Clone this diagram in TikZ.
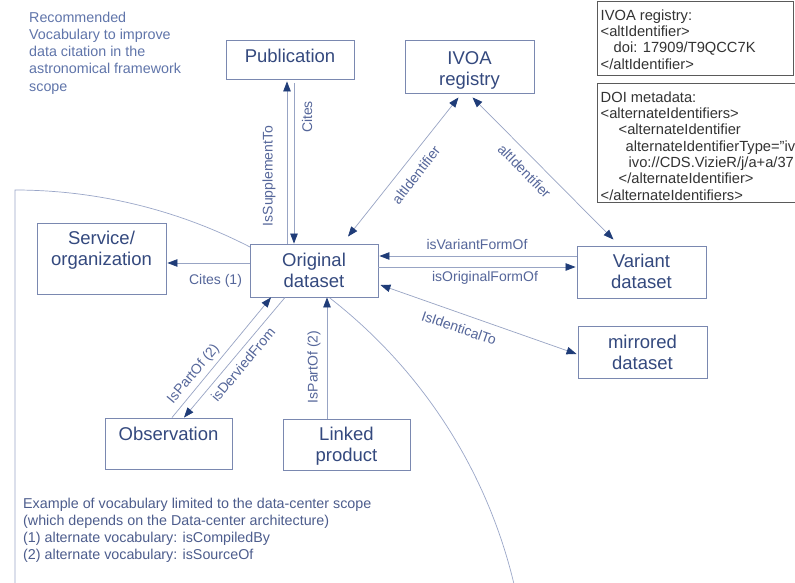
\documentclass[tikz,border=0pt]{standalone}
\usepackage{fontspec}
\setmainfont{Liberation Sans}
\usetikzlibrary{arrows.meta}
\definecolor{boxc}{HTML}{7A88B0}
\definecolor{linec}{HTML}{98A4C4}
\definecolor{tipc}{HTML}{1F3C78}
\definecolor{nodetxt}{HTML}{34497E}
\definecolor{lblc}{HTML}{55669A}
\definecolor{titlec}{HTML}{6075AA}
\definecolor{notec}{HTML}{4D5D8D}
\definecolor{curvec}{HTML}{9AA6C8}
\definecolor{grayb}{HTML}{5A5A5A}
\definecolor{grayt}{HTML}{333333}
\tikzset{
  >={Triangle[length=10pt,width=7.5pt,color=tipc]},
  box/.style={draw=boxc, line width=0.9pt, fill=white, inner sep=0pt},
  boxtext/.style={text=nodetxt, font=\fontsize{18.5}{21}\selectfont, align=center, inner sep=0pt},
  conn/.style={draw=linec, line width=0.7pt},
  lbl/.style={text=lblc, font=\fontsize{14}{16}\selectfont, inner sep=0pt},
  codebox/.style={draw=grayb, line width=0.8pt, anchor=north west, inner sep=0pt},
  codetext/.style={text=grayt, font=\fontsize{14.7}{16.3}\selectfont, align=left, anchor=north west, inner sep=0pt},
}
\begin{document}
\begin{tikzpicture}[x=1pt,y=-1pt]
\useasboundingbox[fill=white] (0,0) rectangle (795,583);

% scope curve
\draw[curvec, line width=0.7pt] (15,583) -- (15,190)
  -- plot[domain=-90:-13.5, samples=80, smooth] ({15+513*cos(\x)}, {703+513*sin(\x)});

% boxes
\node[box, minimum width=128pt, minimum height=39pt] (pub) at (290,59.5) {};
\node[box, minimum width=129pt, minimum height=53pt] (ivoa) at (469.5,66.5) {};
\node[box, minimum width=129pt, minimum height=71pt] (svc) at (101.5,258.5) {};
\node[box, minimum width=128pt, minimum height=53pt] (orig) at (314,270.5) {};
\node[box, minimum width=129pt, minimum height=52pt] (var) at (641.5,272) {};
\node[box, minimum width=129pt, minimum height=52pt] (mir) at (642.5,352) {};
\node[box, minimum width=127pt, minimum height=51pt] (obs) at (168.5,443.5) {};
\node[box, minimum width=127pt, minimum height=51pt] (lnk) at (346.5,444.5) {};

% box texts
\node[boxtext] (pubtext) at (290,55.5) {Publication};
\node[boxtext] (ivoatext2) at (469.5,70.5) {IVOA\\registry};
\node[boxtext] (svctext) at (101.5,250) {Service/\\organization};
\node[boxtext] (origtext) at (314,270.5) {Original\\dataset};
\node[boxtext] (vartext) at (641.5,271) {Variant\\dataset};
\node[boxtext] (mirtext) at (642.5,352) {mirrored\\dataset};
\node[boxtext] (obstext) at (168.5,433.5) {Observation};
\node[boxtext] (lnktext) at (346.5,446) {Linked\\product};

% connectors
\draw[conn,->] (orig.north -| 287,0) -- ([yshift=-2pt]pub.south -| 287,0);
\draw[conn,->] ([yshift=-4pt]pub.south -| 294,0) -- (orig.north -| 294,0);
\draw[conn,<->] ([xshift=34pt,yshift=7pt]orig.north) -- ([xshift=-11pt,yshift=-4pt]ivoa.south);
\draw[conn,<->] ([xshift=3pt,yshift=-4pt]ivoa.south) -- ([xshift=-28pt,yshift=6pt]var.north);
\draw[conn,->] (var.west |- 0,256) -- ([xshift=1pt]orig.east |- 0,256);
\draw[conn,->] (orig.east |- 0,267) -- ([xshift=-1pt]var.west |- 0,267);
\draw[conn,<->] ([xshift=2pt]orig.east |- 0,285) -- ([xshift=-1pt]mir.west |- 0,354);
\draw[conn,->] (orig.west |- 0,263) -- ([xshift=1pt]svc.east |- 0,263);
\draw[conn,->] (obs.north -| 172,0) -- (orig.south -| 271,0);
\draw[conn,->] (orig.south -| 285,0) -- (obs.north -| 184,0);
\draw[conn,->] (lnk.north -| 327,0) -- (orig.south -| 327,0);

% labels
\node[lbl, rotate=90] (l1) at (269,176) {IsSupplementTo};
\node[lbl, rotate=90] (l2) at (307,117) {Cites};
\node[lbl, rotate=52] (l3) at (416,175) {altIdentifier};
\node[lbl, rotate=-45.5] (l4) at (524.5,171) {altIdentifier};
\node[lbl] (l5) at (477,244) {isVariantFormOf};
\node[lbl] (l6) at (485,278) {isOriginalFormOf};
\node[lbl, rotate=-19] (l7) at (459,328) {IsIdenticalTo};
\node[lbl] (l8) at (215.5,281) {Cites (1)};
\node[lbl, rotate=50] (l9) at (193.5,374) {IsPartOf (2)};
\node[lbl, rotate=50] (l10) at (243,364.5) {isDerviedFrom};
\node[lbl, rotate=90] (l11) at (314,367) {IsPartOf (2)};

% texts
\node[anchor=north west, align=left, inner sep=0pt, text=titlec,
  font=\fontsize{14.3}{17.3}\selectfont] (title) at (29,11.5)
  {Recommended\\Vocabulary to improve\\data citation in the\\astronomical framework\\scope};
\node[anchor=north west, align=left, inner sep=0pt, text=notec,
  font=\fontsize{14.3}{17}\selectfont] (note) at (23,497.5)
  {Example of vocabulary limited to the data-center scope\\(which depends on the Data-center architecture)\\(1) alternate vocabulary: isCompiledBy\\(2) alternate vocabulary: isSourceOf};

% code boxes
\node[codebox, minimum width=196pt, minimum height=74pt] (ivoabox) at (597,1) {};
\node[codetext] (ivoatext) at (600.5,9.5)
  {IVOA registry:\\<altIdentifier>\\\hspace*{13pt}doi: 17909/T9QCC7K\\</altIdentifier>};
\node[codebox, minimum width=230pt, minimum height=119pt] (doibox) at (597,83) {};
\node[codetext] (doitext) at (600.5,91.5)
  {DOI metadata:\\<alternateIdentifiers>\\\hspace*{18pt}<alternateIdentifier\\\hspace*{25pt}alternateIdentifierType="iv\\\hspace*{28pt}ivo://CDS.VizieR/j/a+a/37\\\hspace*{18pt}</alternateIdentifier>\\</alternateIdentifiers>};
\end{tikzpicture}
\end{document}
